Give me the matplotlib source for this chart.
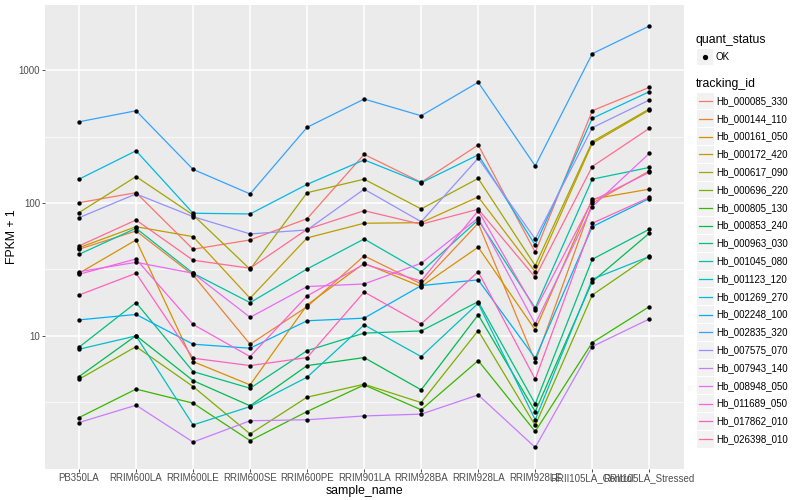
import numpy as np
import matplotlib.pyplot as plt
from matplotlib.ticker import FixedLocator, NullFormatter
from matplotlib.lines import Line2D
from matplotlib.patches import Rectangle

plt.rcParams['font.family'] = ['Liberation Sans', 'DejaVu Sans']

# sample names on the x axis
samples = ["PB350LA", "RRIM600LA", "RRIM600LE", "RRIM600SE", "RRIM600PE",
           "RRIM901LA", "RRIM928BA", "RRIM928LA", "RRIM928LE",
           "RRII105LA_Control", "RRII105LA_Stressed"]

tracking_ids = ["Hb_000085_330", "Hb_000144_110", "Hb_000161_050", "Hb_000172_420",
                "Hb_000617_090", "Hb_000696_220", "Hb_000805_130", "Hb_000853_240",
                "Hb_000963_030", "Hb_001045_080", "Hb_001123_120", "Hb_001269_270",
                "Hb_002248_100", "Hb_002835_320", "Hb_007575_070", "Hb_007943_140",
                "Hb_008948_050", "Hb_011689_050", "Hb_017862_010", "Hb_026398_010"]

# ggplot hue palette, 20 levels
farger = ["#F8766D", "#EA8331", "#D89000", "#C09B00", "#A3A500", "#7CAE00",
          "#39B600", "#00BB4E", "#00BF7D", "#00C1A3", "#00BFC4", "#00BAE0",
          "#00B0F6", "#35A2FF", "#9590FF", "#C77CFF", "#E76BF3", "#FA62DB",
          "#FF62BC", "#FF6C91"]

# FPKM + 1 per sample
hb_000085_330 = [100.5, 119.5, 44.9, 52.7, 76.2, 232, 143, 273, 42.6, 494, 741]
hb_000144_110 = [44.9, 61.6, 28.7, 8.66, 16.6, 40.0, 24.6, 70.4, 6.41, 99.5, 174]
hb_000161_050 = [29.6, 52.7, 6.41, 4.28, 17.1, 35.2, 23.5, 46.5, 11.1, 107, 127]
hb_000172_420 = [46.1, 66.3, 55.8, 19.2, 54.6, 70.4, 71.1, 111, 30.4, 281, 500]
hb_000617_090 = [84.6, 158, 81.3, 31.7, 119.5, 151, 90.2, 153, 33.8, 289, 509]
hb_000696_220 = [4.72, 8.31, 4.16, 1.83, 3.46, 4.33, 3.15, 10.96, 2.12, 20.3, 40.0]
hb_000805_130 = [2.43, 3.98, 3.12, 1.63, 2.70, 4.28, 2.78, 6.52, 1.91, 8.91, 16.6]
hb_000853_240 = [4.94, 10.05, 4.61, 2.98, 5.98, 6.87, 3.93, 14.4, 2.70, 25.6, 59.2]
hb_000963_030 = [8.22, 17.8, 5.39, 4.04, 7.75, 10.5, 10.9, 18.1, 3.08, 37.7, 63.4]
hb_001045_080 = [41.1, 64.5, 29.6, 17.8, 31.9, 53.6, 30.3, 74.5, 16.2, 151, 185]
hb_001123_120 = [7.94, 10.0, 2.14, 2.94, 4.89, 12.1, 6.99, 17.6, 2.34, 26.7, 39.5]
hb_001269_270 = [151, 247, 83.7, 82.7, 138, 211, 142, 230, 48.3, 433, 687]
hb_002248_100 = [13.2, 14.5, 8.66, 8.08, 13.0, 13.6, 23.9, 26.4, 6.80, 66.3, 108]
hb_002835_320 = [408, 494, 179, 117, 371, 605, 453, 809, 190, 1327, 2142]
hb_007575_070 = [77.5, 117, 78.9, 58.5, 62.7, 127, 72.3, 217, 53.6, 368, 595]
hb_007943_140 = [2.23, 3.01, 1.59, 2.30, 2.34, 2.50, 2.58, 3.60, 1.45, 8.31, 13.4]
hb_008948_050 = [30.4, 35.8, 29.6, 13.8, 23.5, 24.6, 35.2, 77.1, 12.3, 93.8, 236]
hb_011689_050 = [29.1, 37.9, 12.2, 6.99, 20.0, 34.6, 25.9, 87.5, 15.7, 104, 170]
hb_017862_010 = [20.3, 29.6, 6.80, 5.98, 6.87, 21.4, 12.3, 30.4, 4.72, 70.4, 110]
hb_026398_010 = [47.5, 74.5, 37.1, 32.3, 63.4, 87.5, 69.2, 89.7, 27.6, 188, 364]

serier = [hb_000085_330, hb_000144_110, hb_000161_050, hb_000172_420, hb_000617_090,
          hb_000696_220, hb_000805_130, hb_000853_240, hb_000963_030, hb_001045_080,
          hb_001123_120, hb_001269_270, hb_002248_100, hb_002835_320, hb_007575_070,
          hb_007943_140, hb_008948_050, hb_011689_050, hb_017862_010, hb_026398_010]

W, H = 800, 500


def fx(px):
    return px / W


def fy(py):
    return 1 - py / H


fig = plt.figure(figsize=(8, 5), dpi=100)
ax = fig.add_axes([fx(44.8), fy(468.5), (683.5 - 44.8) / W, (468.5 - 5) / H])
ax.set_facecolor("#EBEBEB")

x = np.arange(len(samples))
for verdier, farge in zip(serier, farger):
    ax.plot(x, verdier, color=farge, lw=0.9, zorder=2)
for verdier in serier:
    ax.scatter(x, verdier, s=10, color="black", linewidths=0, zorder=3)

ax.set_yscale("log")
ax.set_ylim(1.006, 3085)
ax.set_xlim(-0.6, 10.6)
ax.set_xticks(x)
ax.set_xticklabels(samples)
ax.yaxis.set_major_locator(FixedLocator([10, 100, 1000]))
ax.set_yticklabels(["10", "100", "1000"])
ax.yaxis.set_minor_locator(FixedLocator([10 ** 0.5, 10 ** 1.5, 10 ** 2.5]))
ax.yaxis.set_minor_formatter(NullFormatter())

ax.grid(which="major", color="white", lw=1.1)
ax.grid(which="minor", axis="y", color="white", lw=0.5)
ax.set_axisbelow(True)
for s in ax.spines.values():
    s.set_visible(False)
ax.tick_params(which="major", length=2.0, width=0.6, color="#333333",
               labelsize=7, labelcolor="#4D4D4D", pad=1.5)
ax.tick_params(which="minor", length=0)

ax.set_xlabel("sample_name", fontsize=8.8, labelpad=1.5)
ax.set_ylabel("FPKM + 1", fontsize=8.8, va="center")
ax.yaxis.set_label_coords(-(44.8 - 12) / (683.5 - 44.8), 0.5)

# legend drawn in ggplot style
fig.text(fx(696), fy(40), "quant_status", fontsize=8.8, va="center", ha="left")
fig.patches.append(Rectangle((fx(697), fy(65)), 16 / W, 16 / H, transform=fig.transFigure,
                             facecolor="#F2F2F2", edgecolor="none"))
fig.lines.append(Line2D([fx(705)], [fy(57)], marker="o", markersize=2.8, color="black",
                        linestyle="none", transform=fig.transFigure))
fig.text(fx(716), fy(57), "OK", fontsize=7, va="center", ha="left")

fig.text(fx(696), fy(84), "tracking_id", fontsize=8.8, va="center", ha="left")
for i, (navn, farge) in enumerate(zip(tracking_ids, farger)):
    yc = 101 + i * 17.8
    fig.patches.append(Rectangle((fx(697), fy(yc + 8.4)), 16.5 / W, 16.8 / H,
                                 transform=fig.transFigure, facecolor="#F2F2F2",
                                 edgecolor="none"))
    fig.lines.append(Line2D([fx(698.5), fx(712)], [fy(yc), fy(yc)], color=farge, lw=0.9,
                            transform=fig.transFigure))
    fig.text(fx(716.5), fy(yc), navn, fontsize=7, va="center", ha="left")

fig.savefig("out.png", dpi=100)
